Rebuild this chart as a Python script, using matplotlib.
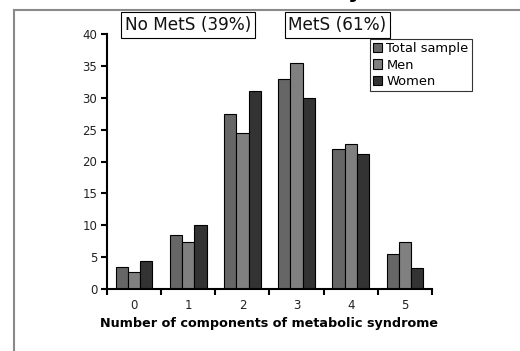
import matplotlib
matplotlib.use("Agg")
import matplotlib.pyplot as plt
import numpy as np
from matplotlib.patches import Rectangle

categories = ["0", "1", "2", "3", "4", "5"]
series_names = ["Total sample", "Men", "Women"]
total = [3.5, 8.5, 27.4, 32.9, 22.0, 5.5]
men = [2.7, 7.3, 24.5, 35.4, 22.7, 7.3]
women = [4.4, 10.0, 31.0, 30.0, 21.1, 3.3]
colors = ["#666666", "#808080", "#333333"]
y_ticks = [0, 5, 10, 15, 20, 25, 30, 35, 40]
xlabel = "Number of components of metabolic syndrome"
box_labels = ["No MetS (39%)", "MetS (61%)"]

W, H = 520, 351
fig = plt.figure(figsize=(W / 100, H / 100), dpi=100)
fig.patch.set_facecolor("white")

# outer gray frame (extends past the image right/bottom)
fig.patches.append(Rectangle((14 / W, -0.1), 1.2, (H - 10) / H + 0.1,
                             transform=fig.transFigure, fill=False,
                             edgecolor="#8a8a8a", lw=1.5, zorder=0))

# partially visible title fragment (clipped at the top edge, as in the source)
fig.text(355 / W, 1 + 1.5 / H, "y", fontsize=16, fontweight="bold",
         ha="center", va="baseline", color="black")

ax = fig.add_axes([107 / W, 1 - 289 / H, 325 / W, 255 / H])
x = np.arange(len(categories))
bw = 0.226
for i, (vals, c, name) in enumerate(zip([total, men, women], colors, series_names)):
    ax.bar(x + (i - 1) * bw, vals, width=bw, color=c, edgecolor="black",
           linewidth=0.8, label=name)

ax.set_xlim(-0.5, len(categories) - 0.5)
ax.set_ylim(0, 40)
ax.set_yticks(y_ticks)
ax.set_yticklabels([str(v) for v in y_ticks])
ax.set_xticks(np.arange(-0.5, len(categories), 1.0))
ax.set_xticklabels([])
ax.set_xticks(x, minor=True)
ax.set_xticklabels(categories, minor=True)
ax.tick_params(axis="x", which="minor", length=0, pad=7, labelsize=8.5,
               labelcolor="#222222")
ax.tick_params(axis="x", which="major", length=4, width=1.5, direction="out")
ax.tick_params(axis="y", length=4, width=1.5, direction="out", labelsize=8.5,
               labelcolor="#222222", pad=3)
for s in ["top", "right"]:
    ax.spines[s].set_visible(False)
for s in ["left", "bottom"]:
    ax.spines[s].set_linewidth(1.5)
ax.set_xlabel(xlabel, fontsize=9.2, fontweight="bold", labelpad=4)

leg = ax.legend(loc="upper left", bbox_to_anchor=(370 / W, 1 - 39 / H),
                bbox_transform=fig.transFigure, fontsize=9.4, frameon=True,
                fancybox=False, edgecolor="black", handlelength=0.7,
                handleheight=0.7, handletextpad=0.3, borderpad=0.25,
                labelspacing=0.25, borderaxespad=0)
leg.get_frame().set_linewidth(0.8)

for lbl, cx in zip(box_labels, [188, 337.5]):
    fig.text(cx / W, 1 - 25 / H, lbl, fontsize=12.2, ha="center", va="center",
             color="#111111",
             bbox=dict(boxstyle="square,pad=0.22", facecolor="white",
                       edgecolor="black", linewidth=0.8))

fig.savefig("out.png", dpi=100)
